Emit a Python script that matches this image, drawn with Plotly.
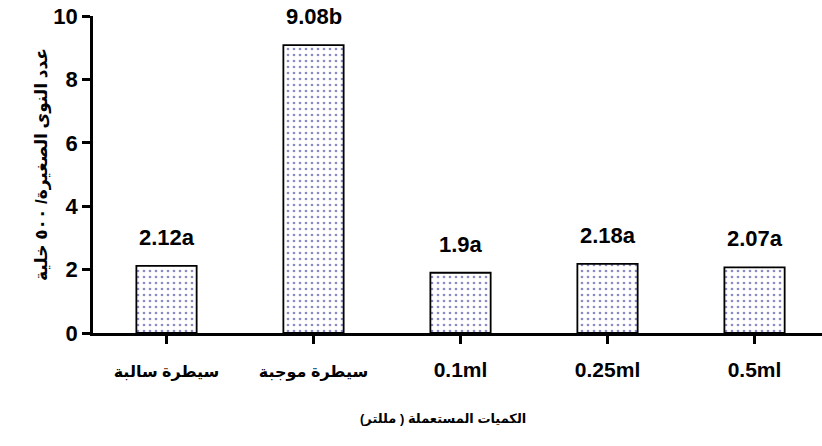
import plotly.graph_objects as go

# Treatments and mean micronucleus counts per 500 cells
categories = ["سيطرة سالبة", "سيطرة موجبة", "0.1ml", "0.25ml", "0.5ml"]
values = [2.12, 9.08, 1.9, 2.18, 2.07]
value_labels = ["2.12a", "9.08b", "1.9a", "2.18a", "2.07a"]
y_ticks = [0, 2, 4, 6, 8, 10]

FONT = "Liberation Sans, Arial, DejaVu Sans, sans-serif"


def tick_label(text):
    # Arabic labels fall back to a wider face, so draw them a little smaller
    if any("\u0600" <= ch <= "\u06ff" for ch in text):
        return f'<span style="font-size:16px">{text}</span>'
    return text


fig = go.Figure()
fig.add_trace(go.Bar(
    x=list(range(len(categories))),
    y=values,
    width=0.41,
    marker=dict(
        color="white",
        line=dict(color="black", width=1.8),
        pattern=dict(shape=".", fgcolor="#16168f", bgcolor="white",
                     size=6, solidity=0.16),
    ),
    showlegend=False,
))

for i, (v, lab) in enumerate(zip(values, value_labels)):
    fig.add_annotation(
        x=i, y=v, text=lab, showarrow=False,
        xref="x", yref="y", yanchor="bottom", yshift=14,
        font=dict(family=FONT, size=22, color="black", weight="bold"),
    )

fig.update_xaxes(
    range=[-0.5, 4.459],
    tickmode="array",
    tickvals=list(range(len(categories))),
    ticktext=[tick_label(c) for c in categories],
    tickson="boundaries",
    ticks="outside", ticklen=8, tickwidth=2.5, tickcolor="black",
    ticklabelstandoff=8,
    showline=True, linecolor="black", linewidth=2.5,
    showgrid=False, zeroline=False,
    tickfont=dict(family=FONT, size=21, color="black", weight="bold"),
)
fig.update_yaxes(
    range=[0, 10],
    tickmode="array",
    tickvals=y_ticks,
    ticktext=[str(t) for t in y_ticks],
    ticks="outside", ticklen=8, tickwidth=2.5, tickcolor="black",
    showline=True, linecolor="black", linewidth=2.5,
    showgrid=False, zeroline=False,
    tickfont=dict(family=FONT, size=22, color="black", weight="bold"),
)

fig.update_layout(
    width=822, height=446,
    margin=dict(l=93, r=0, t=16, b=113),
    plot_bgcolor="white", paper_bgcolor="white",
)

# Axis titles, positioned in pixels relative to the plot area
plot_w = 822 - 93
plot_h = 446 - 16 - 113
fig.add_annotation(
    x=(443 - 93) / plot_w, y=-(428 - 333) / plot_h,
    xref="paper", yref="paper", showarrow=False,
    text="الكميات المستعملة ( مللتر)",
    font=dict(family=FONT, size=13, color="black", weight="bold"),
)
fig.add_annotation(
    x=-(93 - 30) / plot_w, y=(333 - 165) / plot_h,
    xref="paper", yref="paper", showarrow=False,
    text="عدد النوى الصغيرة/ ٥٠٠ خلية", textangle=-90,
    font=dict(family=FONT, size=17, color="black", weight="bold"),
)

fig.write_html("out.html")
